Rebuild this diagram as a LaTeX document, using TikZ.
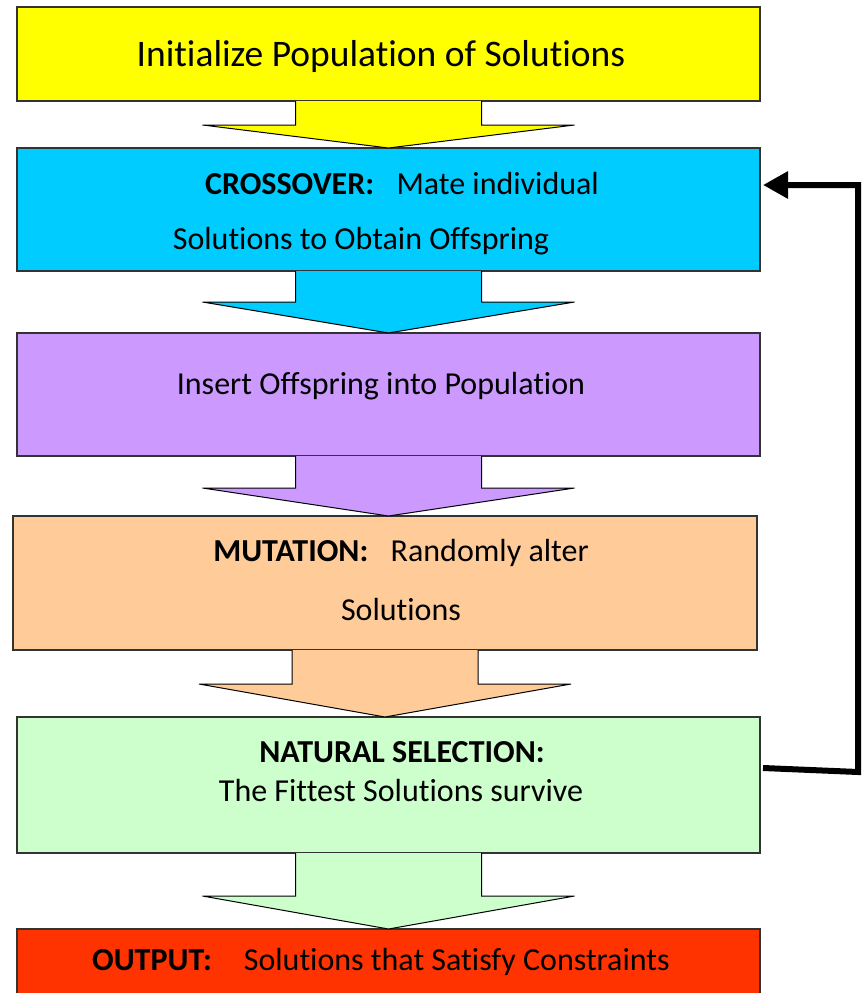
\documentclass[tikz,border=0pt]{standalone}
\usepackage{fontspec}
\setmainfont{Carlito}[Ligatures=NoCommon]
\usepackage{xcolor}
\usetikzlibrary{calc, arrows.meta}

\definecolor{initYellow}{HTML}{FFFF00}
\definecolor{crossCyan}{HTML}{00CCFF}
\definecolor{insertPurple}{HTML}{CC99FF}
\definecolor{mutateOrange}{HTML}{FFCC99}
\definecolor{selectGreen}{HTML}{CCFFCC}
\definecolor{outputRed}{HTML}{FF3300}

\tikzset{
	stagebox/.style={draw=black!80, line width=1.3pt, rectangle, inner sep=0pt, outer sep=0pt, minimum width=743pt},
	stagetext/.style={inner sep=0pt, font=\fontsize{32}{38}\selectfont},
	blockarrow/.style={draw=black, line width=1pt, line join=miter},
	loopback/.style={draw=black, line width=6pt, line join=miter, -{Triangle[length=25pt, width=26pt]}}
}

\newcommand{\fatarrow}[4]{%
	\coordinate (tip) at (#1.south |- #2.north);
	\coordinate (hb) at ($(tip)+(0,-#3)$);
	\filldraw[blockarrow, fill=#4] ($(#1.south)+(-93,0)$) -- ($(hb)+(-93,0)$) -- ($(hb)+(-186,0)$) -- (tip)
		-- ($(hb)+(186,0)$) -- ($(hb)+(93,0)$) -- ($(#1.south)+(93,0)$);
}

\begin{document}
\begin{tikzpicture}[x=1pt, y=-1pt]
					\clip (0,0) rectangle (865,993);
					\useasboundingbox (0,0) rectangle (865,993);

					\begin{scope}
						\node[stagebox, fill=initYellow, minimum height=94pt] (init) at (388.5,54) {};
						\node[stagebox, fill=crossCyan, minimum height=123pt] (cross) at (388.5,209.5) {};
						\node[stagebox, fill=insertPurple, minimum height=123pt] (insert) at (388.5,394.5) {};
						\node[stagebox, fill=mutateOrange, minimum height=134pt, minimum width=744pt] (mutate) at (385,583) {};
						\node[stagebox, fill=selectGreen, minimum height=136pt] (select) at (388.5,785) {};
						\node[stagebox, fill=outputRed, minimum height=81pt] (output) at (388.5,969.5) {};
					\end{scope}

					\fatarrow{init}{cross}{23}{initYellow}
					\fatarrow{cross}{insert}{31}{crossCyan}
					\fatarrow{insert}{mutate}{28}{insertPurple}
					\fatarrow{mutate}{select}{33}{mutateOrange}
					\fatarrow{select}{output}{33}{selectGreen}

					\begin{scope}
						\node[stagetext, font=\fontsize{37.5}{45}\selectfont] (initA) at (381,57) {Initialize Population of Solutions};
						\node[stagetext] (crossA) at (402,184) {\textbf{CROSSOVER:}\hspace{0.7em}Mate individual};
						\node[stagetext] (crossB) at (361,241) {Solutions to Obtain Offspring};
						\node[stagetext] (insertA) at (381,386) {Insert Offspring into Population};
						\node[stagetext] (mutateA) at (401,553) {\textbf{MUTATION:}\hspace{0.7em}Randomly alter};
						\node[stagetext] (mutateB) at (401,609) {Solutions};
						\node[stagetext] (selectA) at (402,752) {\textbf{NATURAL SELECTION:}};
						\node[stagetext] (selectB) at (401,790) {The Fittest Solutions survive};
						\node[stagetext] (outputA) at (381,962) {\textbf{OUTPUT:}\hspace{1em}Solutions that Satisfy Constraints};
					\end{scope}

					\draw[loopback] ([xshift=3pt, yshift=17pt]select.east) -- ++(95,4) |- ([xshift=3pt, yshift=24.5pt]cross.east);
				\end{tikzpicture}
\end{document}
